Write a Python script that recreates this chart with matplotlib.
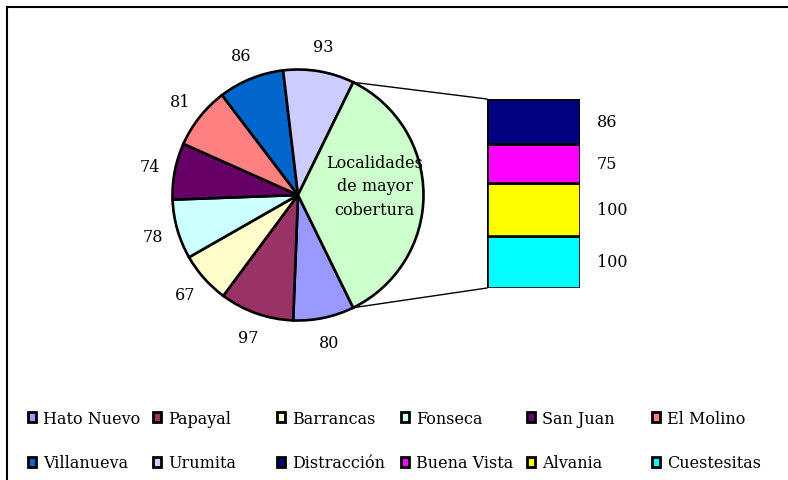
import numpy as np
import matplotlib.pyplot as plt
from matplotlib.patches import Patch, Rectangle, ConnectionPatch

plt.rcParams['font.family'] = ['DejaVu Serif']
plt.rcParams['font.size'] = 11.5

# datos del grafico
pie_names = ['Hato Nuevo', 'Papayal', 'Barrancas', 'Fonseca', 'San Juan',
             'El Molino', 'Villanueva', 'Urumita']
pie_vals = [80, 97, 67, 78, 74, 81, 86, 93]
pie_colors = ['#9999FF', '#993366', '#FFFFCC', '#CCFFFF', '#660066',
              '#FF8080', '#0066CC', '#CCCCFF']

bar_names = ['Distracción', 'Buena Vista', 'Alvania', 'Cuestesitas']
bar_vals = [86, 75, 100, 100]
bar_colors = ['#000080', '#FF00FF', '#FFFF00', '#00FFFF']

other_label = 'Localidades\nde mayor\ncobertura'
other_color = '#CCFFCC'

W, H = 788, 481
fig = plt.figure(figsize=(W / 100, H / 100), dpi=100)

# marco exterior
fig.add_artist(Rectangle((7 / W, -0.1), 1.2, 1.1 - 8 / H, transform=fig.transFigure,
                         fill=False, edgecolor='black', lw=1.5))

# --- pastel ---
ax = fig.add_axes([0, 0, 1, 1])
other = sum(bar_vals)
vals = pie_vals + [other]
total = sum(vals)
start = -other / total * 180.0
cx, cy, R = 298, H - 196, 125.5
wedges, texts = ax.pie(vals, colors=pie_colors + [other_color],
                       labels=[str(v) for v in pie_vals] + [''],
                       labeldistance=1.2, startangle=start, counterclock=False,
                       center=(cx, cy), radius=R, frame=True,
                       wedgeprops=dict(edgecolor='black', linewidth=1.9))
for t in texts:
    t.set_ha('center')
    t.set_va('center')
ax.set_xlim(0, W)
ax.set_ylim(0, H)
ax.axis('off')

w = wedges[-1]
mid = np.deg2rad((w.theta1 + w.theta2) / 2)
ax.text(cx + 0.61 * R * np.cos(mid), cy + 0.61 * R * np.sin(mid) + 9, other_label,
        ha='center', va='center', linespacing=1.5)

# --- barra apilada ---
axb = fig.add_axes([487 / W, (H - 289) / H, 93 / W, 189 / H])
bottom = 0
for name, v, c in reversed(list(zip(bar_names, bar_vals, bar_colors))):
    axb.bar(0, v, bottom=bottom, width=1, color=c, edgecolor='black', linewidth=1.9)
    axb.text(0.68, bottom + v / 2, str(v), ha='left', va='center', clip_on=False)
    bottom += v
axb.set_xlim(-0.5, 0.5)
axb.set_ylim(0, other)
axb.axis('off')

# lineas de union
for ang, yb in [(w.theta1, 0), (w.theta2, other)]:
    a = np.deg2rad(ang)
    p = (cx + R * np.cos(a), cy + R * np.sin(a))
    fig.add_artist(ConnectionPatch(xyA=p, coordsA=ax.transData, xyB=(-0.5, yb),
                                   coordsB=axb.transData, color='black', lw=1))

# --- leyenda en 6 columnas ---
names = pie_names + bar_names
colors = pie_colors + bar_colors
col_x = [28, 153, 277, 401, 527, 652]
for i, x in enumerate(col_x):
    handles = [Patch(facecolor=colors[j], edgecolor='black', linewidth=2, label=names[j])
               for j in (i, i + 6)]
    fig.legend(handles=handles, loc='upper left', bbox_to_anchor=(x / W, 1 - 411 / H),
               frameon=False, borderpad=0, borderaxespad=0, handlelength=0.5,
               handleheight=0.6, handletextpad=0.45, labelspacing=1.72)

fig.savefig('out.png', dpi=100)
